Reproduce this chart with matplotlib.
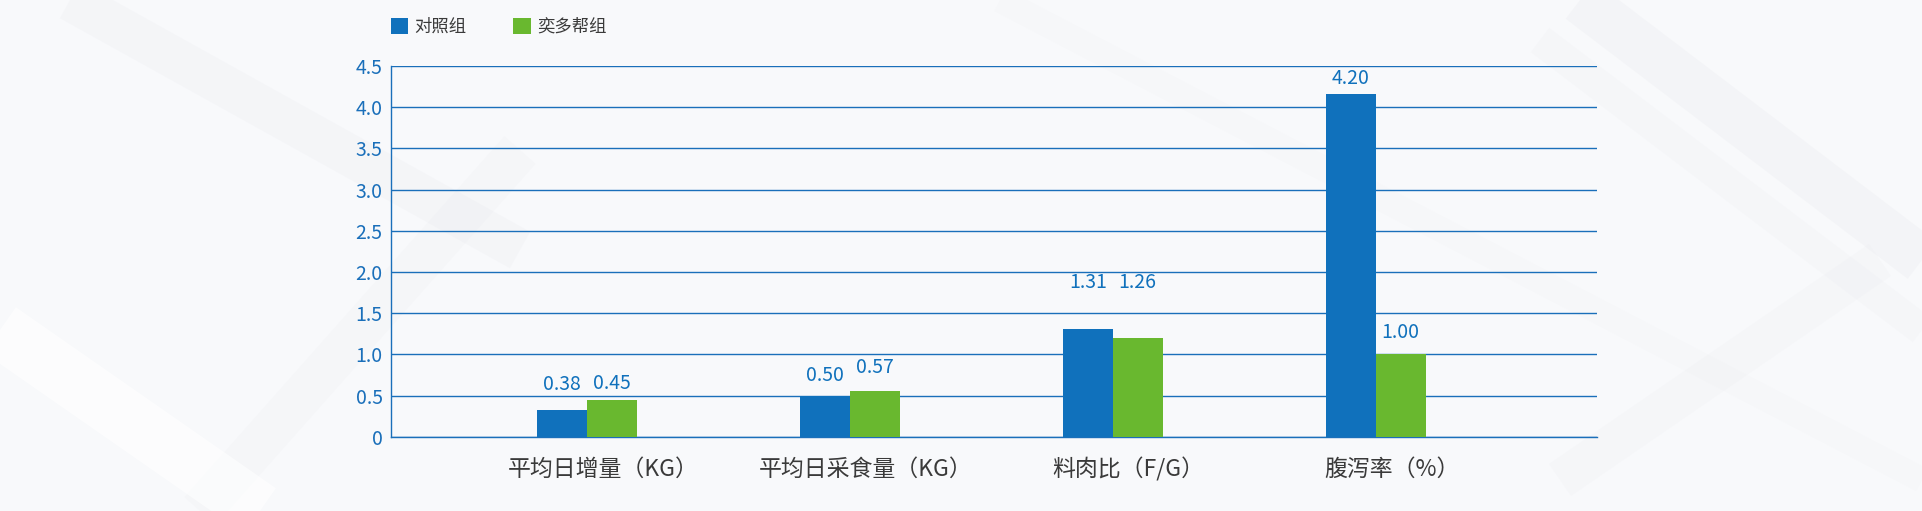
import matplotlib
matplotlib.use("Agg")
import matplotlib.pyplot as plt
from matplotlib.patches import Patch
from matplotlib.ticker import FuncFormatter
from matplotlib.transforms import ScaledTranslation
import numpy as np

plt.rcParams['font.family'] = ['Noto Sans CJK SC', 'DejaVu Sans']

# data
categories = ['平均日增量（KG）', '平均日采食量（KG）', '料肉比（F/G）', '腹泻率（%）']
series_names = ['对照组', '奕多帮组']
control_bars = [0.32, 0.50, 1.31, 4.16]
treat_bars = [0.45, 0.56, 1.20, 1.00]
control_labels = ['0.38', '0.50', '1.31', '4.20']
treat_labels = ['0.45', '0.57', '1.26', '1.00']
y_ticks = [0, 0.5, 1.0, 1.5, 2.0, 2.5, 3.0, 3.5, 4.0, 4.5]

BLUE = '#1071BC'
GREEN = '#69B82F'
AXIS_BLUE = '#1A6FBA'
TEXT_GREY = '#3A3A3A'
BG = '#F8F9FB'

W, H = 1922, 511
fig = plt.figure(figsize=(W / 100, H / 100), dpi=100, facecolor=BG)

# very faint diagonal bands in the background
bg = fig.add_axes([0, 0, 1, 1], zorder=-10)
bg.set_xlim(0, W)
bg.set_ylim(H, 0)
bg.axis('off')
bands = [
    ((70, 0), (520, 250), '#E4E5EA', 30, 0.18),
    ((520, 150), (200, 511), '#E4E5EA', 30, 0.15),
    ((0, 330), (260, 511), '#FFFFFF', 40, 0.6),
    ((1580, 0), (1922, 260), '#E2E3E8', 34, 0.2),
    ((1540, 40), (1922, 330), '#E6E7EC', 22, 0.15),
    ((1560, 480), (1880, 260), '#E6E7EC', 28, 0.15),
    ((1000, 0), (1922, 480), '#E9EAEE', 18, 0.12),
]
for (x0, y0), (x1, y1), c, lw, a in bands:
    bg.plot([x0, x1], [y0, y1], color=c, lw=lw, alpha=a, solid_capstyle='butt')

# plot area
left, right, top, base = 391, 1597, 66, 436.7
ax = fig.add_axes([left / W, (H - base) / H, (right - left) / W, (base - top) / H])
ax.set_facecolor('none')

x = np.arange(len(categories))
bw = 0.19
b1 = ax.bar(x - bw / 2, control_bars, bw, color=BLUE, zorder=3)
b2 = ax.bar(x + bw / 2, treat_bars, bw, color=GREEN, zorder=3)

# label offsets above bar tops (pixels)
off1 = [26, 20, 46, 16]
off2 = [16, 23, 55, 22]
for rects, labels, offs in ((b1, control_labels, off1), (b2, treat_labels, off2)):
    for r, lab, o in zip(rects, labels, offs):
        ax.annotate(lab, (r.get_x() + r.get_width() / 2, r.get_height()),
                    xytext=(0, o), textcoords='offset pixels',
                    ha='center', va='center', fontsize=14, color=BLUE)

ax.set_ylim(0, 4.5)
ax.set_xlim(-0.745, 3.842)
ax.set_yticks(y_ticks)
ax.yaxis.set_major_formatter(FuncFormatter(lambda v, p: '0' if v == 0 else f'{v:.1f}'))
ax.set_xticks(x)
ax.set_xticklabels(categories, fontsize=16.5, color=TEXT_GREY)
ax.tick_params(axis='y', length=0, pad=6, labelsize=14, labelcolor=AXIS_BLUE)
ax.tick_params(axis='x', length=0, pad=15)
# the full-width brackets push the visible text left, nudge it back
shift = ScaledTranslation(16 / 100, 0, fig.dpi_scale_trans)
for lbl in ax.get_xticklabels():
    lbl.set_transform(lbl.get_transform() + shift)

ax.grid(axis='y', color=AXIS_BLUE, lw=1.0, zorder=0)
ax.set_axisbelow(True)
for s in ['top', 'right']:
    ax.spines[s].set_visible(False)
for s in ['left', 'bottom']:
    ax.spines[s].set_color(AXIS_BLUE)
    ax.spines[s].set_linewidth(1.0)

handles = [Patch(facecolor=BLUE, edgecolor='none'), Patch(facecolor=GREEN, edgecolor='none')]
fig.legend(handles, series_names, loc='center left', bbox_to_anchor=(left / W, 1 - 26.7 / H),
           ncol=2, frameon=False, borderpad=0, borderaxespad=0, handlelength=1.0,
           handleheight=1.0, handletextpad=0.35, columnspacing=2.7,
           prop={'size': 12.5}, labelcolor=TEXT_GREY)

fig.savefig('out.png', dpi=100, facecolor=BG)
